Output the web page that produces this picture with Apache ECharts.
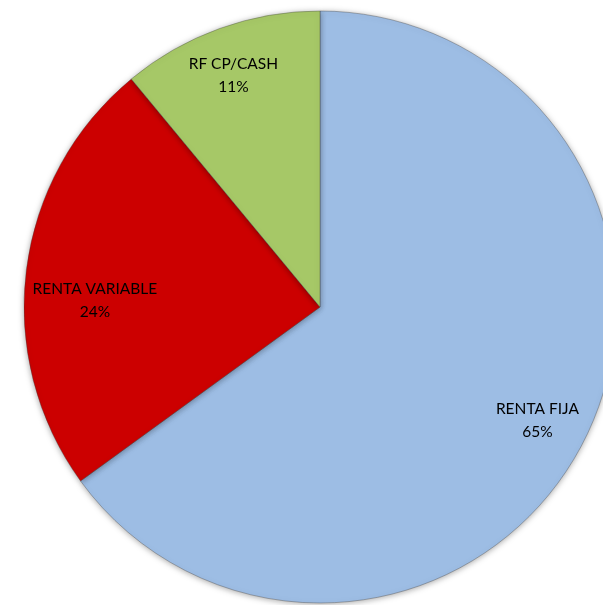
<!DOCTYPE html>
<html>
<head>
<meta charset="utf-8">
<script src="https://cdn.jsdelivr.net/npm/echarts@6/dist/echarts.min.js"></script>
<style>html,body{margin:0;padding:0;background:#fff}#c{width:603px;height:605px}</style>
</head>
<body>
<div id="c"></div>
<script>
const categories = ['RENTA FIJA', 'RENTA VARIABLE', 'RF CP/CASH'];
const values = [65, 24, 11];
const colors = ['#9DBDE4', '#CC0000', '#A6C867'];
// small per-label nudges to mimic Excel's "best fit" label placement
const labelNudge = [[0, 3], [17, 24], [-4, -2]];

const chart = echarts.init(document.getElementById('c'));
const data = categories.map((n, i) => ({ name: n, value: values[i], itemStyle: { color: colors[i] } }));
const labelData = categories.map((n, i) => ({ name: n, value: values[i] }));
chart.setOption({
  animation: false,
  series: [
    {
      type: 'pie',
      center: [320, 307],
      radius: [0, 296],
      startAngle: 90,
      clockwise: true,
      silent: true,
      data: data,
      label: { show: false },
      labelLine: { show: false },
      itemStyle: {
        borderColor: 'rgba(60,60,60,0.35)',
        borderWidth: 1,
        shadowBlur: 6,
        shadowColor: 'rgba(0,0,0,0.35)',
        shadowOffsetY: 1
      }
    },
    {
      type: 'pie',
      center: [320, 307],
      radius: [186, 296],
      startAngle: 90,
      clockwise: true,
      silent: true,
      data: labelData,
      itemStyle: { color: 'rgba(0,0,0,0)' },
      labelLine: { show: false },
      labelLayout: p => ({ dx: labelNudge[p.dataIndex][0], dy: labelNudge[p.dataIndex][1] }),
      label: {
        show: true,
        position: 'inside',
        color: '#000',
        fontFamily: 'Lato, "Open Sans", sans-serif',
        fontSize: 15.5,
        lineHeight: 23,
        formatter: p => p.name + '\n' + p.value + '%'
      }
    }
  ]
});
</script>
</body>
</html>
